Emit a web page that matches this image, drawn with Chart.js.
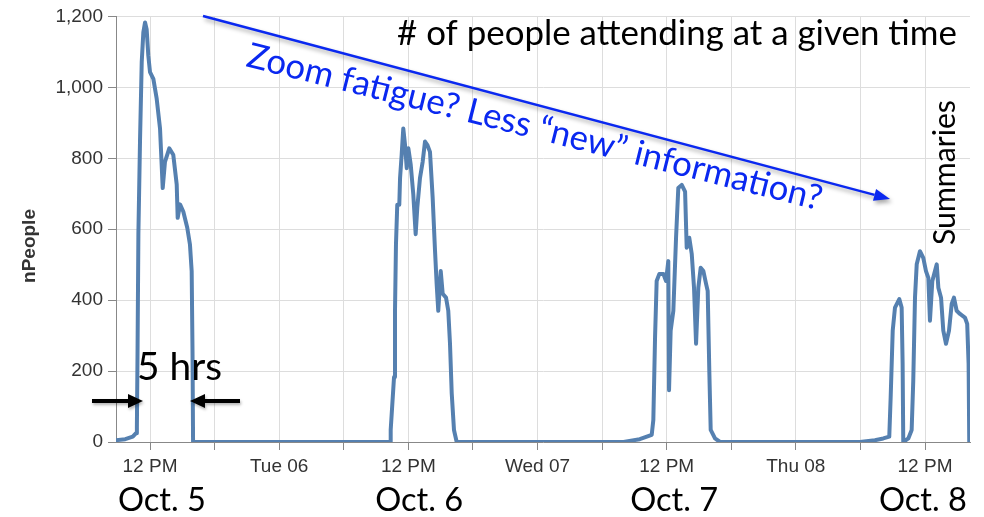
<!DOCTYPE html>
<html>
<head>
<meta charset="utf-8">
<script src="https://cdn.jsdelivr.net/npm/chart.js@4.4.1/dist/chart.umd.min.js"></script>
<style>
  html, body { margin: 0; padding: 0; background: #fff; }
  #wrap { width: 984px; height: 517px; }
</style>
</head>
<body>
<div id="wrap"><canvas id="attendChart"></canvas></div>
<script>
// time is in hours counted from midnight of Oct 5
const hours = [
  // Oct 5
  8.84, 9.7, 10.4, 10.7, 10.78, 10.84, 10.92, 11.07, 11.23, 11.38, 11.54, 11.69, 11.84, 12.0,
  12.31, 12.62, 12.93, 13.18, 13.39, 13.79, 14.16, 14.48, 14.57, 14.79, 15.09, 15.46, 15.71,
  15.87, 15.95, 16.0,
  // Oct 6
  34.30, 34.36, 34.67, 34.76, 34.85, 34.97, 35.16, 35.23, 35.38, 35.53, 35.69, 35.85, 36.00,
  36.22, 36.46, 36.68, 36.83, 37.08, 37.33, 37.55, 37.76, 38.01, 38.26, 38.48, 38.63, 38.78,
  39.01, 39.19, 39.50, 39.71, 39.87, 40.03, 40.24, 40.49,
  // Oct 7
  56.0, 57.5, 58.61, 58.76, 58.92, 59.07, 59.32, 59.69, 59.94, 60.15, 60.22, 60.37, 60.62,
  60.87, 61.08, 61.40, 61.71, 61.86, 62.10, 62.33, 62.54, 62.73, 62.94, 63.16, 63.41, 63.66,
  63.81, 63.96, 64.09, 64.49, 64.96,
  // Oct 8
  77.96, 79.35, 80.12, 80.68, 80.81, 81.00, 81.21, 81.61, 81.83, 81.92, 81.98, 82.45, 82.76,
  82.91, 83.07, 83.23, 83.53, 83.84, 84.09, 84.31, 84.46, 84.68, 85.09, 85.24, 85.49, 85.70,
  85.95, 86.23, 86.48, 86.69, 86.94, 87.25, 87.71, 87.92, 88.05, 88.11
];
const people = [
  5, 8, 15, 25, 40, 250, 586, 847, 1071, 1155, 1183, 1163, 1090, 1043,
  1024, 968, 884, 716, 790, 828, 810, 726, 632, 670, 650, 604, 557,
  482, 250, 0,
  0, 34, 183, 370, 557, 669, 669, 744, 810, 884, 838, 772, 828,
  782, 698, 586, 660, 744, 790, 847, 838, 818, 688, 538, 446, 370,
  482, 418, 407, 370, 277, 137, 34, 0,
  0, 8, 20, 62, 295, 454, 474, 474, 454, 510, 146, 314, 370,
  576, 716, 725, 706, 548, 576, 530, 435, 277, 435, 491, 482, 446,
  426, 202, 34, 10, 0,
  0, 5, 10, 15, 127, 314, 379, 403, 379, 221, 0, 10, 34,
  174, 407, 501, 538, 519, 482, 463, 342, 454, 501, 435, 407, 314,
  277, 314, 389, 407, 370, 361, 351, 333, 221, 0
];
const tickHours = [12, 18, 24, 30, 36, 42, 48, 54, 60, 66, 72, 78, 84];
const tickLabels = ['12 PM', '', 'Tue 06', '', '12 PM', '', 'Wed 07', '', '12 PM', '', 'Thu 08', '', '12 PM'];
const dayNotes = ['Oct. 5', 'Oct. 6', 'Oct. 7', 'Oct. 8'];

const points = hours.map((h, i) => ({ x: h, y: people[i] }));

function fitSize(ctx, text, width, family) {
  ctx.font = '100px ' + family;
  return 100 * width / ctx.measureText(text).width;
}

function arrow(ctx, x1, y1, x2, y2, color, lw, headLen, headW) {
  const a = Math.atan2(y2 - y1, x2 - x1);
  const bx = x2 - headLen * Math.cos(a), by = y2 - headLen * Math.sin(a);
  ctx.strokeStyle = color;
  ctx.fillStyle = color;
  ctx.lineWidth = lw;
  ctx.beginPath();
  ctx.moveTo(x1, y1);
  ctx.lineTo(bx, by);
  ctx.stroke();
  ctx.beginPath();
  ctx.moveTo(x2, y2);
  ctx.lineTo(bx + headW / 2 * Math.sin(a), by - headW / 2 * Math.cos(a));
  ctx.lineTo(bx - headW / 2 * Math.sin(a), by + headW / 2 * Math.cos(a));
  ctx.closePath();
  ctx.fill();
}

const notes = {
  id: 'notes',
  afterDraw(chart) {
    const ctx = chart.ctx;
    const fam = 'Lato, "Open Sans", sans-serif';

    // y axis title
    ctx.save();
    ctx.translate(30, 246);
    ctx.rotate(-Math.PI / 2);
    ctx.font = 'bold 19px "Liberation Sans", Arial, sans-serif';
    ctx.fillStyle = '#333';
    ctx.textAlign = 'center';
    ctx.textBaseline = 'middle';
    ctx.fillText('nPeople', 0, 0);
    ctx.restore();

    // heading
    ctx.save();
    const head = '# of people attending at a given time';
    ctx.font = fitSize(ctx, head, 560, fam) + 'px ' + fam;
    ctx.fillStyle = '#000';
    ctx.textAlign = 'left';
    ctx.textBaseline = 'alphabetic';
    ctx.fillText(head, 397, 45);
    ctx.restore();

    // blue arrow with shadow
    ctx.save();
    ctx.shadowColor = 'rgba(0,0,0,0.35)';
    ctx.shadowBlur = 4;
    ctx.shadowOffsetX = 2;
    ctx.shadowOffsetY = 3;
    arrow(ctx, 203, 16, 890, 199, '#0a28f0', 2.5, 16, 12);
    ctx.restore();

    // blue rotated comment
    ctx.save();
    const blue = 'Zoom fatigue? Less \u201cnew\u201d information?';
    ctx.translate(245, 66);
    ctx.rotate(Math.atan2(145, 577));
    ctx.font = fitSize(ctx, blue, 592, fam) + 'px ' + fam;
    ctx.fillStyle = '#0a28f0';
    ctx.textAlign = 'left';
    ctx.fillText(blue, 0, 0);
    ctx.restore();

    // Summaries
    ctx.save();
    ctx.translate(955, 245);
    ctx.rotate(-Math.PI / 2);
    ctx.font = fitSize(ctx, 'Summaries', 145, fam) + 'px ' + fam;
    ctx.fillStyle = '#000';
    ctx.textAlign = 'left';
    ctx.fillText('Summaries', 0, 0);
    ctx.restore();

    // 5 hrs with arrows
    ctx.save();
    ctx.font = fitSize(ctx, '5 hrs', 85, fam) + 'px ' + fam;
    ctx.fillStyle = '#000';
    ctx.textAlign = 'left';
    ctx.fillText('5 hrs', 137, 380);
    ctx.shadowColor = 'rgba(0,0,0,0.3)';
    ctx.shadowBlur = 3;
    ctx.shadowOffsetX = 1;
    ctx.shadowOffsetY = 2;
    arrow(ctx, 92, 401, 143, 401, '#000', 4, 15, 14);
    arrow(ctx, 240, 401, 190, 401, '#000', 4, 15, 14);
    ctx.restore();

    // day names under the axis
    ctx.save();
    const xs = chart.scales.x;
    const anchor = [13.1, 37.0, 60.7, 83.8];
    ctx.font = fitSize(ctx, 'Oct. 5', 88, fam) + 'px ' + fam;
    ctx.fillStyle = '#000';
    ctx.textAlign = 'center';
    dayNotes.forEach((t, i) => ctx.fillText(t, xs.getPixelForValue(anchor[i]), 511));
    ctx.restore();
  }
};

const ctx = document.getElementById('attendChart').getContext('2d');
const attendChart = new Chart(ctx, {
  type: 'line',
  data: {
    datasets: [{
      label: 'nPeople',
      data: points,
      borderColor: '#5580b0',
      borderWidth: 4,
      borderJoinStyle: 'round',
      borderCapStyle: 'round',
      pointRadius: 0,
      tension: 0,
      fill: false
    }]
  },
  options: {
    responsive: true,
    maintainAspectRatio: false,
    devicePixelRatio: 1,
    animation: false,
    layout: { padding: { top: 14, right: 14, left: 0, bottom: 0 } },
    plugins: { legend: { display: false }, tooltip: { enabled: false } },
    scales: {
      x: {
        type: 'linear',
        min: 8.84,
        max: 88.18,
        afterFit: s => { s.height = 75; },
        afterBuildTicks: s => { s.ticks = tickHours.map(v => ({ value: v })); },
        grid: { color: '#dddddd', tickColor: '#888', tickLength: 8 },
        border: { color: '#888' },
        ticks: {
          autoSkip: false,
          maxRotation: 0,
          padding: 5,
          color: '#333',
          font: { family: '"Liberation Sans", Arial, sans-serif', size: 19 },
          callback: (v) => tickLabels[tickHours.indexOf(v)]
        }
      },
      y: {
        min: 0,
        max: 1200,
        afterFit: s => { s.width = 116; },
        grid: { color: '#dddddd', tickColor: '#888', tickLength: 8 },
        border: { color: '#888' },
        ticks: {
          stepSize: 200,
          padding: 5,
          color: '#333',
          font: { family: '"Liberation Sans", Arial, sans-serif', size: 19 }
        }
      }
    }
  },
  plugins: [notes]
});
</script>
</body>
</html>
